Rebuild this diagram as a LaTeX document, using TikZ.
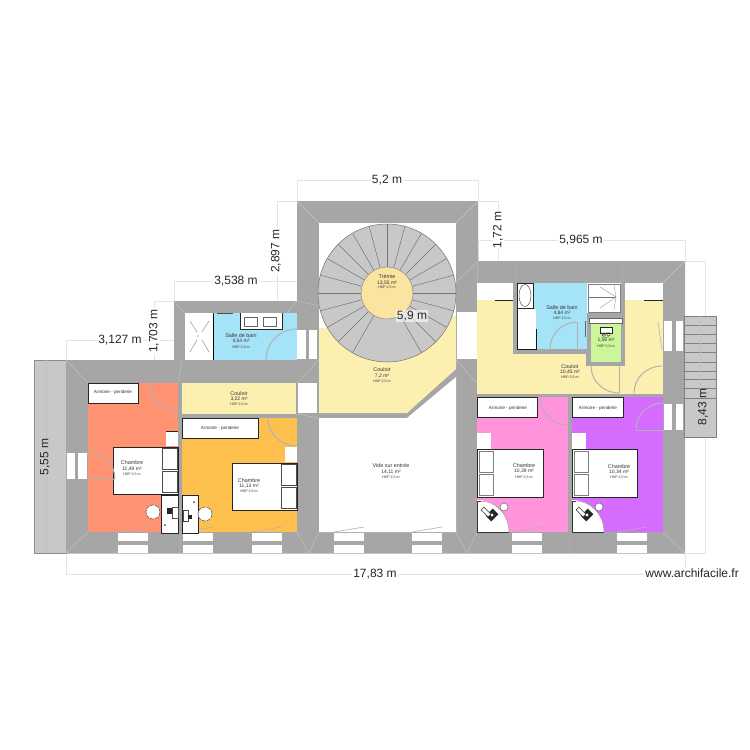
\documentclass[tikz,border=0pt]{standalone}
\usepackage{fontspec}
\setmainfont{Liberation Sans}
\definecolor{wallc}{HTML}{A6A6A6}
\definecolor{orangec}{HTML}{FF9270}
\definecolor{amberc}{HTML}{FDC04F}
\definecolor{pinkc}{HTML}{FF94DC}
\definecolor{purplec}{HTML}{D66CFF}
\definecolor{bluec}{HTML}{A5E4F8}
\definecolor{yellowc}{HTML}{FBF0B0}
\definecolor{greenc}{HTML}{CDF59A}
\definecolor{stairc}{HTML}{C8C8C8}
\definecolor{holec}{HTML}{FBE3A0}
\definecolor{dimc}{HTML}{E4E4E4}
\definecolor{labelc}{HTML}{333333}
\newcommand{\qarc}[6]{%
  \pgfmathsetmacro\qea{#3+.5523*(#5-#1)}%
  \pgfmathsetmacro\qeb{#4+.5523*(#6-#2)}%
  \pgfmathsetmacro\qec{#5+.5523*(#3-#1)}%
  \pgfmathsetmacro\qed{#6+.5523*(#4-#2)}%
  \draw[doorline] (#3,#4) .. controls (\qea,\qeb) and (\qec,\qed) .. (#5,#6);}
\newcommand{\roomlabel}[8]{%
  \node[rname] (#1a) at (#2,#3) {#4};
  \node[rarea] (#1b) at (#2,#5) {#6};
  \node[rhsp] (#1c) at (#2,#7) {#8};}
\newcommand{\deskq}[1]{%
  \begin{scope}[xshift=#1pt]
  \fill[white] (477,500) .. controls (495,500) and (509,514) .. (509,532) -- (477,532) -- cycle;
  \draw[line width=.5pt,black!80] (481,501) -- (477,501) -- (477,532) -- (509,532);
  \draw[line width=.5pt,black!40] (481,501) .. controls (495,501) and (509,514) .. (509,532);
  \fill[black!85,rotate around={45:(492,515)}] (487,511) rectangle (497,519);
  \fill[white] (492,515) circle[radius=1.6];
  \draw[line width=.5pt,black!80,fill=white,rotate around={45:(486,512)}] (484,507) rectangle (488,517);
  \draw[line width=.5pt,black!60,fill=white] (504,507) circle[radius=4];
  \end{scope}}
\tikzset{
  doorline/.style={draw=black!30,line width=1pt},
  winshape/.style={fill=white},
  mline/.style={draw=white!35!wallc,line width=.4pt},
  furn/.style={draw=black!85,fill=white,line width=.6pt},
  pillow/.style={draw=black!70,fill=white,line width=.6pt},
  dimline/.style={draw=dimc,line width=.5pt},
  dimtext/.style={font=\fontsize{12}{12}\selectfont,text=black!85,inner sep=1pt},
  rname/.style={font=\fontsize{5.4}{6}\selectfont,text=labelc,inner sep=0pt},
  rarea/.style={font=\fontsize{5}{6}\selectfont,text=labelc,inner sep=0pt},
  rhsp/.style={font=\fontsize{3.6}{4}\selectfont,text=labelc,inner sep=0pt},
  wardtext/.style={font=\fontsize{4.6}{5}\selectfont,text=black!80,inner sep=0pt},
}
\begin{document}
\begin{tikzpicture}[x=1pt,y=-1pt]
\useasboundingbox (0,0) rectangle (750,750);
\fill[white] (0,0) rectangle (750,750);
% dimension lines
\draw[dimline] (297,201) -- (297,180) -- (478,180) -- (478,201);
\draw[dimline] (297,201) -- (277,201) -- (277,301) -- (297,301);
\draw[dimline] (174,301) -- (174,281) -- (297,281);
\draw[dimline] (174,301) -- (154,301) -- (154,360) -- (174,360);
\draw[dimline] (66,360) -- (66,340) -- (174,340);
\draw[dimline] (478,201) -- (498,201) -- (498,261);
\draw[dimline] (478,261) -- (478,240) -- (685,240) -- (685,261);
\draw[dimline] (685,261) -- (705,261) -- (705,553) -- (685,553);
\draw[dimline] (66,553) -- (66,574) -- (685,574) -- (685,553);
% terrace
\draw[fill=stairc,draw=black!45,line width=.6pt] (34,360) rectangle (66,553);
\draw[draw=black!25,line width=.4pt] (46,360) -- (46,553);
% wall block
\fill[wallc] (66,360) -- (174,360) -- (174,301) -- (297,301) -- (297,201) -- (478,201) -- (478,261) -- (685,261) -- (685,553.6) -- (66,553.6) -- cycle;
% mitre lines in the walls
\draw[mline] (66,360) -- (88,383) (297,201) -- (319,223) (478,201) -- (456,223)
  (174,301) -- (185,313) (297,301) -- (287,313) (478,261) -- (456,282) (685,261) -- (663,283)
  (66,553) -- (88,532) (685,553) -- (663,532) (297,301) -- (319,306) (478,261) -- (477,283)
  (309,553) -- (297,532) (309,553) -- (319,532) (456,532) -- (467,553) (467,553) -- (477,532)
  (178,383) -- (182,360) (297,383) -- (319,360) (297,414) -- (319,418) (456,360) -- (477,383)
  (515,261) -- (515,283) (622,261) -- (622,283) (180,532) -- (180,553) (570,532) -- (570,553);
% rooms
\fill[orangec] (88,383) rectangle (178,532);
\fill[yellowc] (182,383) rectangle (296,414);
\fill[amberc] (182,418) rectangle (297,532);
\fill[bluec] (213,313) rectangle (297,360);
\fill[white] (185,313) rectangle (213,360);
\fill[white] (319,223) rectangle (456,330);
\fill[yellowc] (319,328) -- (400,328) -- (456,315) -- (456,369) -- (407,413) -- (319,413) -- cycle;
\fill[white] (319,418) -- (407,418) -- (456,377) -- (456,532) -- (319,532) -- cycle;
\fill[yellowc] (477,300) rectangle (663,394);
\fill[white] (477,283) rectangle (513,300);
\fill[white] (625,283) rectangle (663,300);
\draw[black!85,line width=.7pt] (495,300) -- (513,300) (644,300) -- (663,300);
\fill[pinkc] (477,397) rectangle (568,532);
\fill[purplec] (572,397) rectangle (663,532);
% right bathroom block
\fill[wallc] (513,283) rectangle (625,354);
\fill[wallc] (586,313) rectangle (625,366);
\fill[bluec] (517,283) rectangle (587,349);
\fill[white] (587,283) rectangle (621,313);
\fill[greenc] (591,318) rectangle (621,362);
% windows
\foreach \wx in {118,183,252,334,412,512,617}{
  \fill[winshape] (\wx,533) rectangle ++(30,8);
  \fill[winshape] (\wx,545) rectangle ++(30,7.6);
  \draw[doorline,line width=.6pt] (\wx,532) -- ++(30,-5);}
\fill[winshape] (67,453) rectangle (75,479);
\fill[winshape] (78,453) rectangle (87,479);
\fill[winshape] (297,330) rectangle (306,359);
\fill[winshape] (309,330) rectangle (317,359);
\fill[winshape] (298,383) rectangle (317,413);
\fill[winshape] (457,312) rectangle (477,359);
\fill[winshape] (664,321) rectangle (672,351);
\fill[winshape] (676,321) rectangle (683,351);
\fill[winshape] (664,404) rectangle (672,430);
\fill[winshape] (676,404) rectangle (683,430);
\draw[doorline,line width=.6pt] (658,322) -- (662,350);
% left bathroom fixtures
\draw[black,line width=.7pt] (213,313) -- (213,360);
\draw[black!50,line width=.4pt] (190,321) -- (197,332) (209,321) -- (202,332) (190,352) -- (197,340) (209,352) -- (202,340);
\fill[black!60] (198,336) circle[radius=.7];
\draw[black!70,line width=.5pt] (217,313) -- (233,313);
\draw[furn] (240,313) -- (240,329) -- (282,329) -- (282,313);
\draw[black!60,line width=.5pt,fill=white] (244,317) rectangle (257,326);
\draw[black!60,line width=.5pt,fill=white] (263,317) rectangle (276,326);
\qarc{297}{360}{266}{360}{297}{329}
% stairs
\fill[stairc,draw=black!55,line width=.5pt] (387,293) circle[radius=69];
\foreach \sa in {90,75,60,45,30,15,0,-15,-30,-45,-60,-120,-135,-150,-165,180,165,150,135,120,105}{
  \draw[black!55,line width=.5pt] ({387+26*cos(\sa)},{293-26*sin(\sa)}) -- ({387+69*cos(\sa)},{293-69*sin(\sa)});}
\fill[holec,draw=black!45,line width=.5pt] (387,293) circle[radius=26];
% right stair
\draw[fill=stairc,draw=black!50,line width=.6pt] (684,316) rectangle (716,437);
\foreach \sy in {325,334,343,352,362,371,379,388,398}{
  \draw[black!50,line width=.6pt] (684,\sy) -- (716,\sy);}
\draw[black!25,line width=.5pt] (700,316) -- (700,398);
% right bathroom fixtures
\fill[white] (517,283) rectangle (533,308);
\draw[black!85,line width=.5pt] (517,283) rectangle (533,308);
\draw[black!80,line width=.4pt] (525,295.5) ellipse[x radius=6,y radius=11];
\fill[white] (517,309) rectangle (536,349);
\draw[black!90,line width=.6pt] (517,309) -- (517,349) -- (536,349) -- (536,329);
\draw[black!50,line width=.4pt] (588,284) rectangle (620,312);
\draw[black!55,line width=.9pt] (589,297) -- (616,297);
\draw[black!40,line width=.4pt] (600,287) -- (616,297) -- (600,308) (614,285) -- (616,297) -- (614,309);
\draw[black!60,line width=.4pt,fill=white] (589,318) rectangle (622,323);
\draw[black!85,line width=.5pt,fill=white] (600,327) rectangle (612,333);
\draw[black!60,line width=.4pt] (601,333) .. controls (603,339) and (609,339) .. (611,333);
\draw[black!60,line width=.5pt] (585,321) -- (585,337);
\qarc{577}{349}{577}{322}{550}{349}
\draw[doorline] (577,349) -- (577,322);
\qarc{619}{366}{591}{366}{619}{393}
\draw[doorline] (619,366) -- (619,393);
\qarc{662}{393}{634}{393}{662}{366}
% bedrooms furniture
\draw[furn] (88,383) rectangle (138,403);
\draw[furn] (182,418) rectangle (258,438);
\draw[furn] (477,397) rectangle (537,417);
\draw[furn] (572,397) rectangle (623,417);
\fill[white] (166,431) rectangle (178,446);
\fill[white] (285,447) rectangle (297,462);
\fill[white] (477,433) rectangle (491,449);
\fill[white] (572,433) rectangle (586,449);
\draw[black!85,line width=.5pt] (166,431) -- (178,431);
\draw[furn] (113,447) rectangle (178,494);
\draw[furn] (232,463) rectangle (297,510);
\draw[furn] (477,449) rectangle (543,497);
\draw[furn] (572,449) rectangle (637,497);
\foreach \px/\py in {162/448,162/471,281/464,281/487}{
  \draw[pillow] (\px,\py) rectangle ++(15,21);}
\foreach \px/\py in {479/451,479/474,574/451,574/474}{
  \draw[pillow,draw=black!50] (\px,\py) rectangle ++(14,21);}
% bedroom doors
\qarc{178}{383}{150}{383}{178}{411}
\qarc{296}{418}{268}{418}{296}{446}
\qarc{88}{479}{88}{452}{115}{479}
\draw[doorline] (88,479) -- (115,479);
\qarc{568}{397}{540}{397}{568}{425}
\qarc{663}{430}{636}{430}{663}{403}
\draw[doorline] (636,430) -- (663,430);
% left desks
\draw[furn] (161,495) rectangle (178,533);
\draw[furn] (182,495) rectangle (198,533);
\draw[black!70,line width=.5pt,fill=white] (172,507) rectangle (178,518);
\fill[black!85] (167,508) rectangle (172,514);
\fill[black!70] (165,525) circle[radius=1];
\draw[black!70,line width=.5pt,fill=white] (183,510) rectangle (188,521);
\fill[black!85] (188,515) rectangle (192,519);
\fill[black!70] (194,502) circle[radius=1];
\draw[black!70,line width=.5pt,dash pattern=on 4pt off 1pt,fill=white] (153,512) circle[radius=7];
\draw[black!70,line width=.5pt,dash pattern=on 4pt off 1pt,fill=white] (205,514) circle[radius=7];
\deskq{0}
\deskq{95}
% texts
\node[wardtext] (w1) at (113,392) {Armoire - penderie};
\node[wardtext] (w2) at (220,428) {Armoire - penderie};
\node[wardtext] (w3) at (508,408) {Armoire - penderie};
\node[wardtext] (w4) at (598,408) {Armoire - penderie};
\roomlabel{r1}{241}{336}{Salle de bain}{341}{4,54 m²}{347}{HSP 2,5 m}
\roomlabel{r2}{562}{308}{Salle de bain}{313}{4,84 m²}{318}{HSP 2,5 m}
\roomlabel{r3}{606}{335}{WC}{340}{1,56 m²}{346}{HSP 2,5 m}
\roomlabel{r4}{570}{367}{Couloir}{372}{10,45 m²}{377}{HSP 2,5 m}
\roomlabel{r5}{387}{277}{Trémie}{283}{13,55 m²}{287}{HSP 2,5 m}
\roomlabel{r6}{382}{370}{Couloir}{376}{7,2 m²}{381}{HSP 2,5 m}
\roomlabel{r7}{239}{394}{Couloir}{399}{3,22 m²}{404}{HSP 2,5 m}
\roomlabel{r8}{132}{463}{Chambre}{469}{11,49 m²}{474}{HSP 2,5 m}
\roomlabel{r9}{249}{481}{Chambre}{486}{11,13 m²}{491}{HSP 2,5 m}
\roomlabel{r10}{524}{466}{Chambre}{471}{10,39 m²}{477}{HSP 2,5 m}
\roomlabel{r11}{619}{467}{Chambre}{472}{10,34 m²}{477}{HSP 2,5 m}
\roomlabel{r12}{391}{466}{Vide sur entrée}{472}{14,11 m²}{477}{HSP 2,5 m}
% dimension labels
\node[dimtext,fill=white] (d1) at (387,180) {5,2 m};
\node[dimtext,fill=white,rotate=90] (d2) at (276,251) {2,897 m};
\node[dimtext,fill=white] (d3) at (236,281) {3,538 m};
\node[dimtext,fill=white,rotate=90] (d4) at (154,331) {1,703 m};
\node[dimtext,fill=white] (d5) at (120,340) {3,127 m};
\node[dimtext,fill=white,rotate=90] (d6) at (498,230) {1,72 m};
\node[dimtext,fill=white] (d7) at (581,240) {5,965 m};
\node[dimtext,rotate=90] (d8) at (703,407) {8,43 m};
\node[dimtext,fill=stairc,rotate=90] (d9) at (45,457) {5,55 m};
\node[dimtext,fill=white] (d10) at (375,574) {17,83 m};
\node[dimtext,fill=white,fill opacity=.6,text opacity=1] (d11) at (412,316) {5,9 m};
\node[dimtext,anchor=east,fill=white,fill opacity=.7,text opacity=1] (wm) at (740,573) {www.archifacile.fr};
\end{tikzpicture}
\end{document}
